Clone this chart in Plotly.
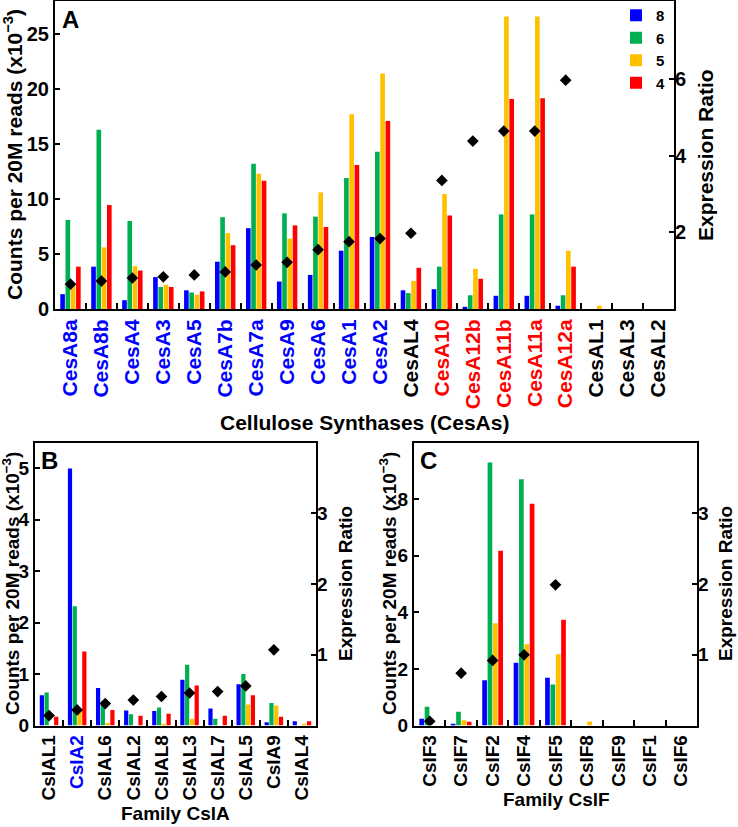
import plotly.graph_objects as go

# ---------------- data ----------------
series_names = ["8", "6", "5", "4"]

cesa_genes = ["CesA8a", "CesA8b", "CesA4", "CesA3", "CesA5", "CesA7b", "CesA7a", "CesA9",
              "CesA6", "CesA1", "CesA2", "CesAL4", "CesA10", "CesA12b", "CesA11b", "CesA11a",
              "CesA12a", "CesAL1", "CesAL3", "CesAL2"]
cesa_8 = [1.35, 3.85, 0.8, 2.9, 1.7, 4.3, 7.35, 2.5, 3.1, 5.3, 6.55, 1.7, 1.8, 0.2, 1.2, 1.2, 0.3, 0, 0, 0]
cesa_6 = [8.1, 16.3, 8.0, 2.0, 1.5, 8.35, 13.2, 8.7, 8.4, 11.9, 14.3, 1.45, 3.85, 1.25, 8.6, 8.6, 1.25, 0, 0, 0]
cesa_5 = [2.2, 5.6, 3.9, 2.2, 1.3, 6.9, 12.3, 6.4, 10.6, 17.7, 21.4, 2.55, 10.45, 3.65, 26.6, 26.6, 5.3, 0.3, 0, 0]
cesa_4 = [3.85, 9.45, 3.5, 2.0, 1.6, 5.8, 11.65, 7.6, 7.45, 13.1, 17.1, 3.75, 8.5, 2.75, 19.1, 19.15, 3.85, 0, 0, 0]
cesa_ratio = [0.65, 0.73, 0.81, 0.84, 0.89, 0.97, 1.15, 1.22, 1.55, 1.76, 1.84, 1.98, 3.36, 4.39, 4.65, 4.65, 5.98,
              None, None, None]

csla_genes = ["CslAL1", "CslA2", "CslAL6", "CslAL2", "CslAL8", "CslAL3", "CslAL7", "CslAL5", "CslA9", "CslAL4"]
csla_8 = [0.59, 5.0, 0.73, 0.29, 0.28, 0.89, 0.33, 0.80, 0.065, 0.085]
csla_6 = [0.64, 2.32, 0.46, 0.22, 0.35, 1.18, 0.13, 1.0, 0.44, 0]
csla_5 = [0, 0.3, 0.05, 0, 0.03, 0.13, 0, 0.41, 0.39, 0.03]
csla_4 = [0.17, 1.44, 0.30, 0.19, 0.23, 0.78, 0.19, 0.59, 0.17, 0.085]
csla_ratio = [0.14, 0.22, 0.31, 0.36, 0.41, 0.46, 0.48, 0.56, 1.07, None]

cslf_genes = ["CslF3", "CslF7", "CslF2", "CslF4", "CslF5", "CslF8", "CslF9", "CslF1", "CslF6"]
cslf_8 = [0.24, 0.04, 1.6, 2.22, 1.69, 0, 0, 0, 0]
cslf_6 = [0.66, 0.49, 9.3, 8.71, 1.45, 0, 0, 0, 0]
cslf_5 = [0, 0.19, 3.62, 2.87, 2.52, 0.14, 0, 0, 0]
cslf_4 = [0, 0.13, 6.18, 7.84, 3.74, 0, 0, 0, 0]
cslf_ratio = [0.06, 0.74, 0.92, 1.0, 1.99, None, None, None, None]

# ---------------- style ----------------
FONT = "Liberation Sans, Arial, sans-serif"
BAR_COLORS = ["#0000FF", "#00B050", "#FFC000", "#FF0000"]
BLUE, RED, BLACK = "#0000FF", "#FF0000", "#000000"
cesa_label_colors = [BLUE] * 11 + [BLACK] + [RED] * 5 + [BLACK] * 3
csla_label_colors = [BLACK, BLUE] + [BLACK] * 8
cslf_label_colors = [BLACK] * 9

W, H = 738, 827


def px(x):
    return x / W


def py(y):
    return 1 - y / H


fig = go.Figure()


def add_panel(genes, series, ratio, xa, ya, ya2, legend):
    for name, vals, col in zip(series_names, series, BAR_COLORS):
        fig.add_trace(go.Bar(x=genes, y=vals, name=name, marker=dict(color=col, line=dict(width=0)),
                             xaxis=xa, yaxis=ya, showlegend=legend, legendgroup=name))
    fig.add_trace(go.Scatter(x=genes, y=ratio, mode="markers", xaxis=xa, yaxis=ya2, showlegend=False,
                             marker=dict(symbol="diamond", size=9, color="black")))


add_panel(cesa_genes, [cesa_8, cesa_6, cesa_5, cesa_4], cesa_ratio, "x", "y", "y2", True)
add_panel(csla_genes, [csla_8, csla_6, csla_5, csla_4], csla_ratio, "x2", "y3", "y4", False)
add_panel(cslf_genes, [cslf_8, cslf_6, cslf_5, cslf_4], cslf_ratio, "x3", "y5", "y6", False)


def xaxis_cfg(domain, anchor, cats, colors, size):
    return dict(domain=domain, anchor=anchor, type="category", categoryorder="array", categoryarray=cats,
                tickmode="array", tickvals=cats,
                ticktext=[f'<span style="color:{c}">{n}</span>' for n, c in zip(cats, colors)],
                tickangle=-90, tickson="boundaries", ticks="inside", ticklen=6, tickwidth=2,
                tickcolor="black", showline=True, linewidth=2, linecolor="black", mirror=True,
                tickfont=dict(family=FONT, size=size, color="black", weight="bold"),
                range=[-0.5, len(cats) - 0.5], showgrid=False, zeroline=False)


def yaxis_cfg(domain, anchor, rng, vals, size, side="left", overlay=None):
    d = dict(domain=domain, anchor=anchor, range=rng, tickmode="array", tickvals=vals,
             ticks="inside", ticklen=5, tickwidth=2, tickcolor="black", side=side,
             tickfont=dict(family=FONT, size=size, color="black", weight="bold"),
             showgrid=False, zeroline=False)
    if overlay:
        d.update(overlaying=overlay, showline=False)
    else:
        d.update(showline=True, linewidth=2, linecolor="black", mirror=True)
    return d


a_dom_x = [px(55), px(674)]
a_dom_y = [py(309), py(1)]
b_dom_x = [px(35), px(316)]
c_dom_x = [px(414), px(697)]
bc_dom_y = [py(725.5), py(442.7)]

fig.update_layout(
    width=W, height=H, margin=dict(l=0, r=0, t=0, b=0, autoexpand=False),
    paper_bgcolor="white", plot_bgcolor="white",
    barmode="group", bargap=0.32, bargroupgap=0.12,
    font=dict(family=FONT, color="black"),
    xaxis=xaxis_cfg(a_dom_x, "y", cesa_genes, cesa_label_colors, 21),
    yaxis=yaxis_cfg(a_dom_y, "x", [0, 28], [0, 5, 10, 15, 20, 25], 20),
    yaxis2=yaxis_cfg(a_dom_y, "x", [0, 8.05], [2, 4, 6], 20, side="right", overlay="y"),
    xaxis2=xaxis_cfg(b_dom_x, "y3", csla_genes, csla_label_colors, 19),
    yaxis3=yaxis_cfg(bc_dom_y, "x2", [0, 5.5], [0, 1, 2, 3, 4, 5], 19),
    yaxis4=yaxis_cfg(bc_dom_y, "x2", [0, 4.0], [1, 2, 3], 19, side="right", overlay="y3"),
    xaxis3=xaxis_cfg(c_dom_x, "y5", cslf_genes, cslf_label_colors, 19),
    yaxis5=yaxis_cfg(bc_dom_y, "x3", [0, 10], [0, 2, 4, 6, 8], 19),
    yaxis6=yaxis_cfg(bc_dom_y, "x3", [0, 4.0], [1, 2, 3], 19, side="right", overlay="y5"),
    legend=dict(x=px(616), y=py(-1), xanchor="left", yanchor="top", bgcolor="rgba(0,0,0,0)",
                font=dict(family=FONT, size=15, color="black", weight="bold"), traceorder="normal"),
)

ytitle = "Counts per 20M reads (x10<sup>\u22123</sup>)"
annots = [
    # panel letters
    dict(text="A", x=px(60), y=py(4), xanchor="left", yanchor="top", size=24),
    dict(text="B", x=px(39), y=py(445), xanchor="left", yanchor="top", size=24),
    dict(text="C", x=px(418), y=py(445), xanchor="left", yanchor="top", size=24),
    # axis titles
    dict(text="Cellulose Synthases (CesAs)", x=px(364), y=py(422), xanchor="center", yanchor="middle", size=21),
    dict(text="Family CslA", x=px(175), y=py(813), xanchor="center", yanchor="middle", size=19),
    dict(text="Family CslF", x=px(556), y=py(799), xanchor="center", yanchor="middle", size=19),
    dict(text=ytitle, x=px(13), y=py(155), xanchor="center", yanchor="middle", size=21, angle=-90),
    dict(text="Expression Ratio", x=px(706), y=py(155), xanchor="center", yanchor="middle", size=21, angle=-90),
    dict(text=ytitle, x=px(11), y=py(584), xanchor="center", yanchor="middle", size=19, angle=-90),
    dict(text="Expression Ratio", x=px(345), y=py(584), xanchor="center", yanchor="middle", size=19, angle=-90),
    dict(text=ytitle, x=px(388), y=py(584), xanchor="center", yanchor="middle", size=19, angle=-90),
    dict(text="Expression Ratio", x=px(725), y=py(584), xanchor="center", yanchor="middle", size=19, angle=-90),
]
for a in annots:
    fig.add_annotation(text=a["text"], x=a["x"], y=a["y"], xref="paper", yref="paper",
                       xanchor=a["xanchor"], yanchor=a["yanchor"], showarrow=False,
                       textangle=a.get("angle", 0),
                       font=dict(family=FONT, size=a["size"], color="black", weight="bold"))

# remove the default page margin so the figure sits at the window's top-left corner
fig.write_html("out.html", config={"displayModeBar": False},
               post_script="document.body.style.margin='0';")
